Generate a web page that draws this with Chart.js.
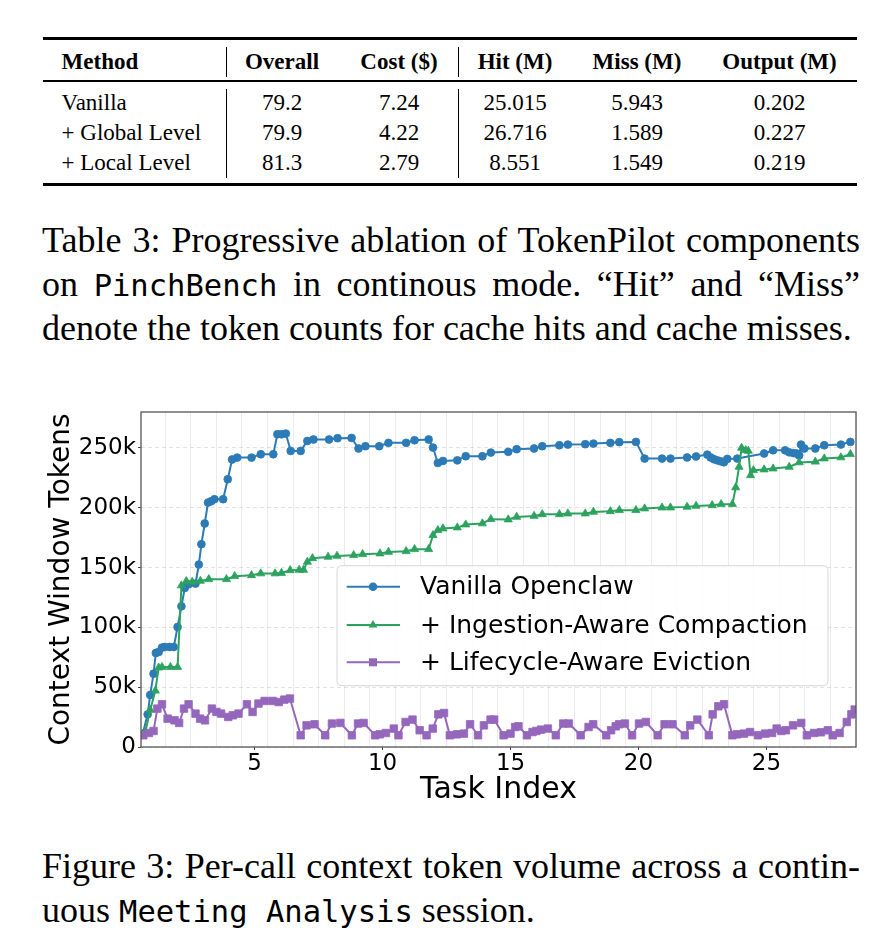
<!DOCTYPE html>
<html><head><meta charset="utf-8">
<script src="https://cdn.jsdelivr.net/npm/chart.js@4.4.1/dist/chart.umd.min.js"></script>
<style>
html,body{margin:0;padding:0;background:#fff;}
#page{position:relative;width:890px;height:952px;overflow:hidden;font-family:"Liberation Serif","Times New Roman",serif;color:#000;}
.rule{position:absolute;background:#000;}
.cell{position:absolute;font-size:23px;line-height:30px;white-space:nowrap;}
.hdr{font-weight:bold;}
.cap{position:absolute;left:42px;width:818px;font-size:36px;line-height:44px;}
.just{text-align:justify;text-align-last:justify;}
.mono{font-family:"DejaVu Sans Mono",monospace;font-size:30.5px;}
#chartBox{position:absolute;left:0;top:380px;width:890px;height:450px;}
</style></head>
<body><div id="page">
<div id="table"></div>
<div class="cap just" style="top:218px;">Table 3: Progressive ablation of TokenPilot components</div>
<div class="cap just" style="top:262px;">on <span class="mono">PinchBench</span> in continous mode. &ldquo;Hit&rdquo; and &ldquo;Miss&rdquo;</div>
<div class="cap" style="top:306px;">denote the token counts for cache hits and cache misses.</div>
<div id="chartBox"><canvas id="c" width="890" height="450"></canvas></div>
<div class="cap just" style="top:844px;">Figure 3: Per-call context token volume across a contin-</div>
<div class="cap" style="top:888px;">uous <span class="mono">Meeting Analysis</span> session.</div>
</div>
<script>
// ---------- table data ----------
const tableHeaders = ['Method','Overall','Cost ($)','Hit (M)','Miss (M)','Output (M)'];
const tableMethods = ['Vanilla','+ Global Level','+ Local Level'];
const tableOverall = ['79.2','79.9','81.3'];
const tableCost = ['7.24','4.22','2.79'];
const tableHit = ['25.015','26.716','8.551'];
const tableMiss = ['5.943','1.589','1.549'];
const tableOutput = ['0.202','0.227','0.219'];

// ---------- chart data (x = task index, y = context tokens in thousands) ----------
const seriesLabels = ['Vanilla Openclaw','+ Ingestion-Aware Compaction','+ Lifecycle-Aware Eviction'];
const vanillaX = [0.62,0.82,0.92,1.05,1.14,1.25,1.38,1.48,1.68,1.84,1.99,2.14,2.27,2.42,2.69,2.82,2.92,3.05,3.18,3.30,3.43,3.77,3.95,4.12,4.32,4.88,5.24,5.73,5.89,6.05,6.22,6.41,6.80,7.06,7.30,7.91,8.24,8.79,9.06,9.33,9.87,10.23,10.92,11.25,11.80,11.97,12.16,12.36,12.92,13.25,13.90,14.23,14.91,15.24,15.92,16.24,16.91,17.24,17.92,18.24,18.90,19.25,19.90,20.24,20.92,21.25,21.90,22.25,22.69,22.82,22.95,23.08,23.21,23.34,23.47,23.86,24.91,25.26,25.73,25.89,26.05,26.18,26.28,26.35,26.48,26.91,27.26,27.91,28.28];
const vanillaY = [10.5,27.3,43.5,61.3,78.6,79.4,83.1,83.6,83.6,83.6,100.3,117.6,132.9,136,136.6,152.5,169.5,186.8,204.3,205.4,207.1,207.1,223.8,240.3,241.9,241.9,244.7,244.7,261.4,261.4,262,247.5,247.5,255.8,257,257,258.1,258.3,249.5,251.4,251.4,254.2,254.2,256.4,257,250.3,237.4,239.1,239.6,243,243,246.1,246.7,248.9,249.5,251.4,252.2,252.8,253.1,253.6,254.2,254.8,255,241.1,241.1,241.1,242,242.8,244.4,242,240.5,239.6,238.8,238,240.8,241.1,245.3,248,248,246.3,245.7,245.3,243.7,252.8,249.5,249.5,252.2,252.8,255];
const ingestionX = [0.62,0.73,0.92,1.12,1.25,1.38,1.71,1.99,2.14,2.33,2.56,2.88,3.21,3.90,4.22,4.88,5.24,5.80,6.05,6.39,6.74,6.91,7.06,7.26,7.87,8.22,8.87,9.22,9.90,10.23,10.92,11.25,11.80,11.97,12.16,12.36,12.92,13.25,13.90,14.23,14.91,15.24,15.92,16.24,16.91,17.24,17.92,18.24,18.90,19.25,19.90,20.24,20.92,21.25,21.90,22.25,22.88,23.23,23.67,23.80,23.93,24.03,24.19,24.29,24.38,24.49,24.91,25.26,25.89,26.28,26.91,27.26,27.91,28.28];
const ingestionY = [11,12.5,31,47,66.3,66.8,66.8,66.8,135,138.5,138,138.8,140.2,140.2,142.7,143.5,145,145,145.4,147.7,148,148,154.7,157.7,158.9,159.7,160.3,161.1,161.7,163,163.6,165.3,165.3,177,181.2,182.6,183.4,185.9,186.8,190.4,190.1,192.3,193.1,194.5,194.5,195.1,195.1,196.5,197,197.9,197.9,199.3,200.1,200.1,200.7,201.5,202,202.9,202.9,216.9,234.1,250,248,247.5,227.1,231.3,231.9,232.7,234.1,237.8,238.4,241.1,242,244.7];
const lifecycleX = [0.65,0.87,1.05,1.20,1.38,1.60,1.87,2.05,2.24,2.42,2.69,2.87,3.06,3.33,3.51,3.69,3.97,4.15,4.37,4.70,4.92,5.15,5.39,5.70,5.94,6.16,6.38,6.80,7.03,7.34,7.76,8.02,8.35,8.80,9.04,9.26,9.71,9.89,10.13,10.44,10.62,10.90,11.17,11.45,11.72,11.96,12.18,12.40,12.63,12.91,13.18,13.42,13.73,13.96,14.22,14.36,14.73,15.00,15.18,15.31,15.64,15.86,16.01,16.19,16.46,16.77,17.06,17.28,17.74,18.05,18.23,18.74,18.93,19.11,19.25,19.47,19.75,20.02,20.29,20.75,21.02,21.33,21.81,22.02,22.30,22.75,22.90,23.12,23.34,23.67,23.85,24.12,24.36,24.67,24.95,25.22,25.40,25.58,25.76,26.04,26.36,26.58,26.86,27.13,27.40,27.59,27.86,28.14,28.32,28.45];
const lifecycleY = [9.8,11.7,13.4,32.1,35.7,23.7,22.3,20.1,32.1,35.7,27.9,23.7,22.3,32.1,29.3,27.9,25.1,26.5,27.9,35.7,29.3,36.3,38.5,38.5,37.6,39.6,40.5,9.8,18.1,19,9.8,19.6,20.1,9.8,19.6,20.1,9.8,10.6,11.7,15.4,9.8,20.9,22.9,14,9.8,15.4,27.3,28.4,9.8,10.6,11.2,19,9.8,18.1,22.9,22.9,9.8,11.2,16.7,17.3,9.8,12.5,13.4,14.5,15.4,9.8,19.6,19.6,9.8,16.7,19,9.8,14,17.3,19,19.6,9.8,19.6,20.9,9.8,19,19,9.8,18.1,22.9,9.8,27.3,34,35.7,9.8,10.6,11.2,12.5,9.8,11.2,11.7,15.4,13.4,14,18.1,20.1,9.8,11.7,12.3,14,9.8,11.7,20.9,27.3,31.3];
const yTickValues = [0,50,100,150,200,250];
const xTickValues = [5,10,15,20,25];

// ---------- build table ----------
(function(){
  const t = document.getElementById('table');
  function add(cls, style){ const d=document.createElement('div'); d.className=cls; d.setAttribute('style',style); t.appendChild(d); return d; }
  add('rule','left:43px;width:814px;top:37px;height:2.6px;');
  add('rule','left:43px;width:814px;top:80.3px;height:1.4px;');
  add('rule','left:43px;width:814px;top:183px;height:2.6px;');
  [226,457.5].forEach(x=>{
    add('rule','left:'+x+'px;width:1.1px;top:46.7px;height:30px;');
    add('rule','left:'+x+'px;width:1.1px;top:89px;height:89px;');
  });
  const centers = [null,282,399,515,637,779.5];
  const cols = [tableMethods,tableOverall,tableCost,tableHit,tableMiss,tableOutput];
  function place(text, ci, top, bold){
    let d;
    if(ci===0){ d = add('cell'+(bold?' hdr':''),'left:61.6px;top:'+top+'px;'); }
    else { d = add('cell'+(bold?' hdr':''),'left:'+(centers[ci]-100)+'px;width:200px;text-align:center;top:'+top+'px;'); }
    d.textContent = text;
  }
  tableHeaders.forEach((h,i)=>place(h,i,46.7,true));
  const rowTops=[88.3,118.3,148.3];
  cols.forEach((col,ci)=>col.forEach((v,ri)=>place(v,ci,rowTops[ri],false)));
})();

// ---------- chart ----------
const BLUE='#2c7bb6', GREEN='#2ca25f', PURPLE='#9467bd';
function pts(xs,ys){ return xs.map((x,i)=>({x:x,y:ys[i]})); }
const xGridValues=[]; for(let v=1.5; v<=28.5; v+=1) xGridValues.push(v);

function drawMarker(ctx, style, x, y, r){
  ctx.beginPath();
  if(style==='circle'){ ctx.arc(x,y,r,0,Math.PI*2); }
  else if(style==='triangle'){
    ctx.moveTo(x, y-r);
    ctx.lineTo(x+Math.sin(2*Math.PI/3)*r, y-Math.cos(2*Math.PI/3)*r);
    ctx.lineTo(x+Math.sin(4*Math.PI/3)*r, y-Math.cos(4*Math.PI/3)*r);
    ctx.closePath();
  } else { const s=r*Math.SQRT1_2; ctx.rect(x-s,y-s,2*s,2*s); }
  ctx.fill();
}

const framePlugin = {
  id:'frame',
  afterDatasetsDraw(chart){
    const {ctx, chartArea:a} = chart;
    ctx.save(); ctx.strokeStyle='#555'; ctx.lineWidth=1.3;
    ctx.strokeRect(a.left, a.top, a.right-a.left, a.bottom-a.top);
    ctx.restore();
  }
};
const legendPlugin = {
  id:'boxLegend',
  afterDraw(chart){
    const ctx = chart.ctx;
    const bx=337, by=185.7, bw=491, bh=120, rad=5;
    ctx.save();
    ctx.beginPath();
    ctx.moveTo(bx+rad,by); ctx.lineTo(bx+bw-rad,by); ctx.quadraticCurveTo(bx+bw,by,bx+bw,by+rad);
    ctx.lineTo(bx+bw,by+bh-rad); ctx.quadraticCurveTo(bx+bw,by+bh,bx+bw-rad,by+bh);
    ctx.lineTo(bx+rad,by+bh); ctx.quadraticCurveTo(bx,by+bh,bx,by+bh-rad);
    ctx.lineTo(bx,by+rad); ctx.quadraticCurveTo(bx,by,bx+rad,by); ctx.closePath();
    ctx.fillStyle='rgba(255,255,255,0.85)'; ctx.fill();
    ctx.strokeStyle='#d6d6d6'; ctx.lineWidth=1; ctx.stroke();
    const rows=[206.7,245,282.3];
    chart.data.datasets.forEach((ds,i)=>{
      const y=rows[i];
      ctx.strokeStyle=ds.borderColor; ctx.lineWidth=ds.borderWidth;
      ctx.beginPath(); ctx.moveTo(346.7,y); ctx.lineTo(400,y); ctx.stroke();
      ctx.fillStyle=ds.backgroundColor;
      drawMarker(ctx, ds.pointStyle, 373, y, ds.pointRadius+0.4);
      ctx.fillStyle='#000'; ctx.font='25px "DejaVu Sans"'; ctx.textBaseline='middle'; ctx.textAlign='left';
      ctx.fillText(ds.label, 420, y+1);
    });
    ctx.restore();
  }
};

new Chart(document.getElementById('c'), {
  type:'scatter',
  data:{datasets:[
    {label:seriesLabels[0], data:pts(vanillaX,vanillaY), borderColor:BLUE, backgroundColor:BLUE, pointBackgroundColor:BLUE, pointBorderColor:BLUE, pointStyle:'circle', pointRadius:3.9, pointBorderWidth:0.8, showLine:true, borderWidth:2, order:3},
    {label:seriesLabels[1], data:pts(ingestionX,ingestionY), borderColor:GREEN, backgroundColor:GREEN, pointBackgroundColor:GREEN, pointBorderColor:GREEN, pointStyle:'triangle', pointRadius:4.7, pointBorderWidth:0.8, showLine:true, borderWidth:2, order:2},
    {label:seriesLabels[2], data:pts(lifecycleX,lifecycleY), borderColor:PURPLE, backgroundColor:PURPLE, pointBackgroundColor:PURPLE, pointBorderColor:PURPLE, pointStyle:'rect', pointRadius:5.3, pointBorderWidth:0.8, showLine:true, borderWidth:2, order:1}
  ]},
  options:{
    responsive:false, animation:false, devicePixelRatio:1,
    layout:{padding:{top:32,right:34,left:0,bottom:0}},
    plugins:{legend:{display:false}, tooltip:{enabled:false}},
    elements:{line:{tension:0}},
    scales:{
      x:{
        type:'linear', min:0.56, max:28.5,
        afterFit(s){ s.height=83; },
        afterBuildTicks(s){ s.ticks = xGridValues.concat(xTickValues).sort((a,b)=>a-b).map(v=>({value:v})); },
        ticks:{autoSkip:false, maxRotation:0, minRotation:0, padding:0, color:'#000', font:{family:'DejaVu Sans', size:23},
          callback:(v)=> xTickValues.includes(v) ? String(v) : ''},
        grid:{
          color:(c)=> (c.tick && Number.isInteger(c.tick.value)) ? 'rgba(0,0,0,0)' : 'rgba(0,0,0,0.075)',
          tickColor:(c)=> (c.tick && Number.isInteger(c.tick.value)) ? '#444' : 'rgba(0,0,0,0)',
          tickLength:3, lineWidth:1
        },
        border:{display:false},
        title:{display:true, text:'Task Index', color:'#000', font:{family:'DejaVu Sans', size:30}, padding:{top:0,bottom:22}}
      },
      y:{
        type:'linear', min:0, max:280,
        afterFit(s){ s.width=141; },
        afterBuildTicks(s){ s.ticks = yTickValues.map(v=>({value:v})); },
        ticks:{padding:2, color:'#000', font:{family:'DejaVu Sans', size:23},
          callback:(v)=> v===0 ? '0' : v+'k'},
        grid:{color:'rgba(0,0,0,0.11)', tickColor:'#444', tickLength:3, lineWidth:1},
        border:{display:false, dash:[4,3]},
        title:{display:true, text:'Context Window Tokens', color:'#000', font:{family:'DejaVu Sans', size:28}, padding:{top:45,bottom:0}}
      }
    }
  },
  plugins:[framePlugin, legendPlugin]
});
</script>
</body></html>
